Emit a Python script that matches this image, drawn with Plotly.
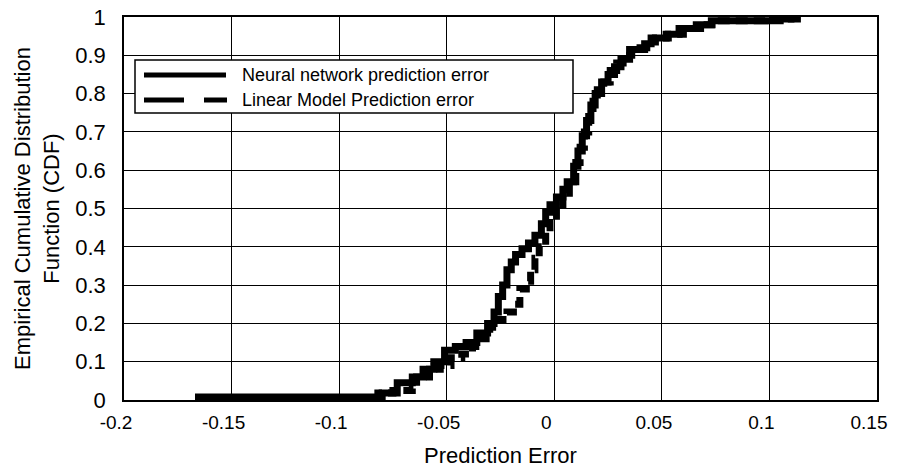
import plotly.graph_objects as go

# ---- data ----
nn_x = [-0.167, -0.080, -0.073, -0.066, -0.061, -0.056, -0.051, -0.046, -0.041, -0.036,
        -0.031, -0.028, -0.026, -0.024, -0.022, -0.020, -0.018, -0.015, -0.012, -0.009,
        -0.006, -0.004, -0.002, 0.001, 0.004, 0.006, 0.009, 0.011, 0.013, 0.015,
        0.017, 0.019, 0.022, 0.025, 0.028, 0.031, 0.035, 0.042, 0.045, 0.052,
        0.058, 0.066, 0.073, 0.105, 0.113]
nn_y = [0.008, 0.018, 0.045, 0.060, 0.080, 0.100, 0.130, 0.140, 0.150, 0.175,
        0.200, 0.230, 0.270, 0.300, 0.340, 0.360, 0.380, 0.395, 0.410, 0.430,
        0.460, 0.490, 0.510, 0.530, 0.550, 0.570, 0.610, 0.650, 0.690, 0.730,
        0.770, 0.800, 0.830, 0.850, 0.870, 0.890, 0.915, 0.930, 0.945, 0.955,
        0.970, 0.980, 0.990, 0.995, 1.000]

lm_x = [-0.167, -0.082, -0.075, -0.066, -0.064, -0.058, -0.053, -0.048, -0.043, -0.038,
        -0.034, -0.030, -0.026, -0.022, -0.019, -0.016, -0.013, -0.011, -0.009, -0.007,
        -0.004, -0.002, 0.001, 0.004, 0.007, 0.010, 0.012, 0.014, 0.016, 0.018,
        0.020, 0.023, 0.026, 0.029, 0.032, 0.036, 0.043, 0.047, 0.053, 0.060,
        0.068, 0.075, 0.098, 0.110]
lm_y = [0.005, 0.018, 0.025, 0.030, 0.060, 0.080, 0.090, 0.110, 0.120, 0.140,
        0.160, 0.190, 0.210, 0.230, 0.250, 0.290, 0.310, 0.340, 0.370, 0.400,
        0.450, 0.480, 0.510, 0.540, 0.570, 0.620, 0.660, 0.700, 0.740, 0.780,
        0.810, 0.830, 0.860, 0.880, 0.900, 0.920, 0.935, 0.945, 0.955, 0.970,
        0.980, 0.990, 0.995, 1.000]

x_ticks = [-0.2, -0.15, -0.1, -0.05, 0, 0.05, 0.1, 0.15]
x_tick_labels = ["-0.2", "-0.15", "-0.1", "-0.05", "0", "0.05", "0.1", "0.15"]
y_ticks = [0, 0.1, 0.2, 0.3, 0.4, 0.5, 0.6, 0.7, 0.8, 0.9, 1]
y_tick_labels = ["0", "0.1", "0.2", "0.3", "0.4", "0.5", "0.6", "0.7", "0.8", "0.9", "1"]

series_names = ["Neural network prediction error", "Linear Model Prediction error"]

FONT = "Liberation Sans, Arial, sans-serif"

fig = go.Figure()
fig.add_trace(go.Scatter(x=lm_x, y=lm_y, mode="lines", line_shape="hv",
                         line=dict(color="black", width=7, dash="12px,6px"),
                         name=series_names[1], showlegend=False))
fig.add_trace(go.Scatter(x=nn_x, y=nn_y, mode="lines", line_shape="hv",
                         line=dict(color="black", width=7),
                         name=series_names[0], showlegend=False))

W, H = 899, 468
L, R, T, B = 124, 877, 17, 400

def px(xp):
    return (xp - L) / (R - L)

def py(yp):
    return (B - yp) / (B - T)

shapes = [
    dict(type="rect", xref="paper", yref="paper", x0=px(135), x1=px(573), y0=py(113), y1=py(60),
         line=dict(color="black", width=1.5), fillcolor="white", layer="above"),
    dict(type="line", xref="paper", yref="paper", x0=px(144), x1=px(226), y0=py(75), y1=py(75),
         line=dict(color="black", width=5), layer="above"),
    dict(type="line", xref="paper", yref="paper", x0=px(144), x1=px(227), y0=py(100), y1=py(100),
         line=dict(color="black", width=5, dash="40px,20px"), layer="above"),
]
annotations = [
    dict(xref="paper", yref="paper", x=px(240), y=py(75), text=series_names[0], showarrow=False,
         xanchor="left", yanchor="middle", font=dict(family=FONT, size=18, color="black")),
    dict(xref="paper", yref="paper", x=px(240), y=py(100), text=series_names[1], showarrow=False,
         xanchor="left", yanchor="middle", font=dict(family=FONT, size=18, color="black")),
]

fig.update_layout(
    width=W, height=H,
    margin=dict(l=L, r=W - R, t=T, b=H - B),
    paper_bgcolor="white", plot_bgcolor="white",
    font=dict(family=FONT, size=20, color="black"),
    shapes=shapes, annotations=annotations,
    showlegend=False,
)
fig.update_xaxes(range=[-0.2, 0.15], tickvals=x_ticks, ticktext=x_tick_labels,
                 tickfont=dict(size=19), automargin=False,
                 showgrid=True, gridcolor="black", gridwidth=1,
                 showline=True, linecolor="black", linewidth=1.5, mirror=True,
                 zeroline=False, ticks="", ticklabelshift=-8, ticklabelstandoff=4,
                 title=dict(text="Prediction Error", standoff=18, font=dict(size=22)))
fig.update_yaxes(range=[0, 1], tickvals=y_ticks, ticktext=y_tick_labels,
                 tickfont=dict(size=22), automargin=False,
                 showgrid=True, gridcolor="black", gridwidth=1,
                 showline=True, linecolor="black", linewidth=1.5, mirror=True,
                 zeroline=False, ticks="", ticklabelstandoff=12,
                 title=dict(text="Empirical Cumulative Distribution<br>Function (CDF)", standoff=10,
                            font=dict(size=22)))

fig.write_html("out.html")
